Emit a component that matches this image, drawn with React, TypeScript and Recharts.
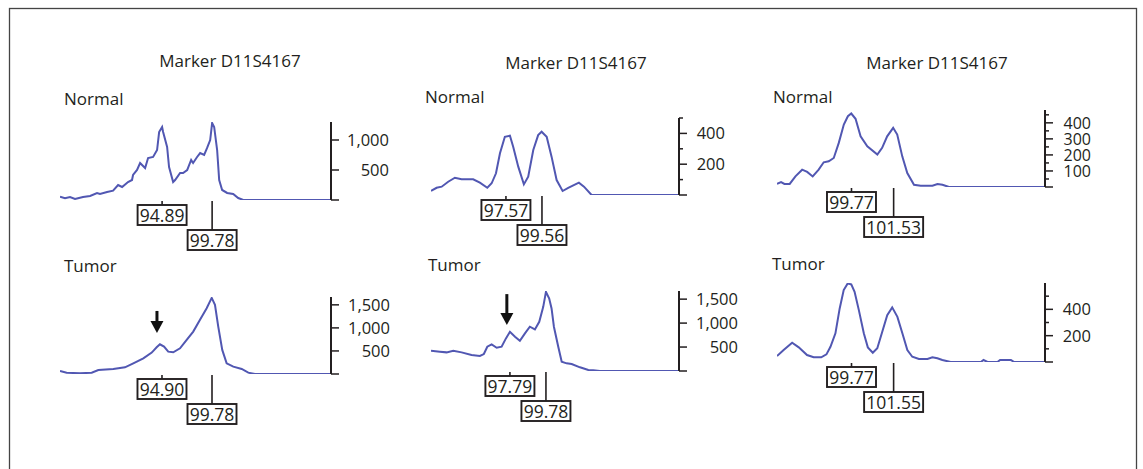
import { LineChart, Line, XAxis, YAxis, ReferenceDot } from 'recharts';

// fragment size (bp) and signal
const normal1Bp = [84.91, 85.4, 85.89, 86.38, 87.16, 87.85, 88.53, 88.82, 89.51, 90.1, 90.59, 90.98, 91.56, 91.95, 92.05, 92.44, 92.74, 93.23, 93.52, 94.01, 94.4, 94.6, 94.89, 94.99, 95.38, 95.57, 95.97, 96.16, 96.65, 96.94, 97.34, 97.73, 97.92, 98.31, 98.61, 99.0, 99.29, 99.59, 99.78, 99.98, 100.27, 100.47, 100.76, 101.25, 101.84, 102.33, 102.82, 111.4];
const normal1Rfu = [55, 28, 50, 17, 50, 67, 117, 100, 133, 155, 250, 217, 300, 333, 417, 500, 617, 533, 700, 717, 833, 1133, 1217, 1133, 883, 550, 300, 333, 450, 450, 500, 667, 617, 717, 783, 750, 867, 1000, 1283, 1217, 833, 333, 167, 117, 100, 33, 0, 0];

const normal2Bp = [93.43, 93.74, 94.02, 94.38, 94.75, 95.12, 95.76, 96.13, 96.54, 96.78, 97.02, 97.24, 97.51, 97.79, 97.97, 98.25, 98.56, 98.8, 99.08, 99.35, 99.54, 99.82, 100.09, 100.37, 100.7, 101.01, 101.6, 101.88, 102.3, 107.13];
const normal2Rfu = [26, 47, 54, 86, 112, 102, 102, 80, 47, 76, 141, 271, 378, 385, 313, 184, 69, 119, 292, 389, 411, 378, 249, 97, 26, 47, 80, 54, 0, 0];

const normal3Bp = [96.66, 96.83, 96.97, 97.19, 97.43, 97.71, 97.92, 98.15, 98.4, 98.61, 98.82, 99.03, 99.24, 99.45, 99.62, 99.76, 99.94, 100.15, 100.43, 100.85, 101.05, 101.26, 101.51, 101.68, 101.89, 102.1, 102.38, 102.66, 103.15, 103.36, 103.57, 103.84, 107.85];
const normal3Rfu = [19, 31, 19, 19, 66, 108, 94, 66, 108, 154, 160, 181, 275, 389, 441, 458, 425, 316, 254, 202, 244, 316, 369, 327, 191, 87, 14, 8, 8, 19, 14, 0, 0];

const tumor1Bp = [84.95, 85.6, 86.9, 88.04, 88.69, 90.15, 91.29, 92.1, 93.08, 93.9, 94.38, 94.7, 95.1, 95.51, 96.0, 96.66, 97.31, 97.95, 98.61, 99.26, 99.75, 100.07, 100.39, 100.78, 101.21, 101.86, 102.68, 103.32, 103.97, 111.39];
const tumor1Rfu = [65, 29, 14, 29, 87, 109, 145, 232, 341, 464, 580, 645, 594, 485, 471, 558, 739, 920, 1174, 1428, 1650, 1500, 1029, 522, 232, 159, 109, 29, 0, 0];

const tumor2Bp = [93.43, 93.92, 94.29, 94.66, 95.12, 95.67, 96.13, 96.35, 96.54, 96.78, 97.06, 97.33, 97.57, 97.79, 98.07, 98.34, 98.62, 98.89, 99.17, 99.41, 99.63, 99.78, 99.96, 100.09, 100.22, 100.46, 100.65, 100.92, 101.2, 101.66, 102.12, 102.39, 102.76, 107.13];
const tumor2Rfu = [423, 403, 389, 423, 389, 333, 313, 354, 507, 556, 486, 507, 681, 819, 715, 632, 785, 924, 868, 1028, 1340, 1652, 1514, 1306, 924, 507, 194, 160, 146, 77, 21, 14, 0, 0];

const tumor3Bp = [96.62, 96.9, 97.26, 97.54, 97.89, 98.17, 98.49, 98.71, 98.88, 99.09, 99.27, 99.44, 99.61, 99.76, 99.9, 100.08, 100.29, 100.46, 100.67, 100.86, 101.07, 101.28, 101.49, 101.71, 101.92, 102.13, 102.34, 102.62, 102.98, 103.19, 103.4, 103.61, 103.96, 105.24, 105.35, 105.52, 105.94, 106.05, 106.51, 106.65, 107.95];
const tumor3Rfu = [45, 91, 146, 111, 53, 36, 36, 58, 116, 218, 407, 546, 597, 589, 533, 394, 218, 111, 70, 104, 230, 356, 415, 343, 218, 91, 40, 23, 23, 36, 28, 15, 0, 0, 15, 0, 0, 15, 15, 0, 0];

// called allele sizes under each trace
const normalPeaks = [[94.89, 99.78], [97.57, 99.56], [99.77, 101.53]];
const tumorPeaks = [[94.9, 99.78], [97.79, 99.78], [99.77, 101.55]];

// arrows over the reduced allele (bp, signal at arrow tip)
const tumorArrows: ([number, number] | null)[] = [[94.41, 890], [97.62, 958], null];

// y axis: top of scale, labelled ticks, unlabelled minor ticks
const yTops = [1300, 500, 480, 1670, 1670, 600];
const yMajor = [[0, 500, 1000], [0, 200, 400], [0, 100, 200, 300, 400], [0, 500, 1000, 1500], [0, 500, 1000, 1500], [0, 200, 400]];
const yMinor = [[], [100, 300, 500], [50, 150, 250, 350, 450], [], [], [100, 300, 500]];

const markerTitle = 'Marker D11S4167';

const INK = '#231f20';
const TRACE = '#5157b2';
const FONT = "'Open Sans', sans-serif";
const MT = 4;
const MB = 60;
const AXIS_W = 72;

// pixel placement of each plot area
const boxes = [
  { left: 60, axisX: 331, top: 122, bottom: 200, labelEnd: 58, arrowLen: 0, tickFont: 16.5 },
  { left: 431, axisX: 679, top: 118, bottom: 195, labelEnd: 46, arrowLen: 0, tickFont: 16.5 },
  { left: 777, axisX: 1045, top: 110, bottom: 187, labelEnd: 46, arrowLen: 0, tickFont: 16 },
  { left: 60, axisX: 331, top: 297, bottom: 374, labelEnd: 59, arrowLen: 22, tickFont: 16.5 },
  { left: 431, axisX: 679, top: 291, bottom: 371, labelEnd: 59, arrowLen: 31, tickFont: 16.5 },
  { left: 777, axisX: 1045, top: 283, bottom: 362, labelEnd: 46, arrowLen: 0, tickFont: 16.5 },
];

function AxisTick(props: any) {
  const { x, y, payload, major, labelEnd, fontPx } = props;
  const isMajor = major.includes(payload.value);
  return (
    <g>
      <line x1={x} x2={x + (isMajor ? 8 : 4)} y1={y} y2={y} stroke={INK} strokeWidth={1.5} />
      {isMajor && payload.value > 0 && (
        <text x={x + labelEnd} y={y} dy="0.36em" textAnchor="end" fontSize={fontPx} fontFamily={FONT} fill={INK}>
          {payload.value.toLocaleString('en-US')}
        </text>
      )}
    </g>
  );
}

function PeakTag({ cx, cy, text, drop }: { cx: number; cy: number; text: string; drop: number }) {
  const w = text.length * 10 - 1;
  return (
    <g>
      <line x1={cx} x2={cx} y1={cy + 1} y2={cy + drop} stroke={INK} strokeWidth={1.6} />
      <rect x={cx - w / 2} y={cy + drop} width={w} height={20} fill="#fff" stroke={INK} strokeWidth={1.9} />
      <text x={cx} y={cy + drop + 10.5} dy="0.36em" textAnchor="middle" fontSize={17.5} fontFamily={FONT} fill={INK}>
        {text}
      </text>
    </g>
  );
}

function Arrow({ cx, cy, len }: { cx: number; cy: number; len: number }) {
  const head = 12;
  return (
    <g>
      <line x1={cx} x2={cx} y1={cy - len} y2={cy - head + 1} stroke="#111" strokeWidth={3} />
      <polygon points={`${cx - 6.5},${cy - head} ${cx + 6.5},${cy - head} ${cx},${cy}`} fill="#111" />
    </g>
  );
}

function Trace({ idx, bp, rfu, peaks, arrow }: { idx: number; bp: number[]; rfu: number[]; peaks: number[]; arrow: [number, number] | null }) {
  const box = boxes[idx];
  const data = bp.map((b, i) => ({ bp: b, rfu: rfu[i] }));
  const ticks = [...yMajor[idx], ...yMinor[idx]].sort((a, b) => a - b);
  const w = box.axisX - box.left + AXIS_W;
  const h = box.bottom - box.top + MT + MB;
  return (
    <div style={{ position: 'absolute', left: box.left, top: box.top - MT }}>
      <LineChart width={w} height={h} data={data} margin={{ top: MT, right: 0, bottom: MB, left: 0 }}>
        <XAxis type="number" dataKey="bp" domain={['dataMin', 'dataMax']} allowDataOverflow hide />
        <YAxis
          orientation="right"
          width={AXIS_W}
          type="number"
          domain={[0, yTops[idx]]}
          allowDataOverflow
          ticks={ticks}
          interval={0}
          tickSize={0}
          tickMargin={0}
          tickLine={false}
          axisLine={{ stroke: INK, strokeWidth: 2 }}
          tick={<AxisTick major={yMajor[idx]} labelEnd={box.labelEnd} fontPx={box.tickFont} />}
        />
        <Line type="linear" dataKey="rfu" stroke={TRACE} strokeWidth={2} dot={false} isAnimationActive={false} />
        {peaks.map((p, i) => (
          <ReferenceDot
            key={i}
            x={p}
            y={0}
            r={0}
            ifOverflow="visible"
            shape={(s: any) => <PeakTag cx={s.cx} cy={s.cy} text={p.toFixed(2)} drop={i === 0 ? 5 : 30} />}
          />
        ))}
        {arrow && (
          <ReferenceDot
            x={arrow[0]}
            y={arrow[1]}
            r={0}
            ifOverflow="visible"
            shape={(s: any) => <Arrow cx={s.cx} cy={s.cy} len={box.arrowLen} />}
          />
        )}
      </LineChart>
    </div>
  );
}

export default function App() {
  const normals = [[normal1Bp, normal1Rfu], [normal2Bp, normal2Rfu], [normal3Bp, normal3Rfu]];
  const tumors = [[tumor1Bp, tumor1Rfu], [tumor2Bp, tumor2Rfu], [tumor3Bp, tumor3Rfu]];
  const titleX = [230, 576, 937];
  const titleY = [67, 69, 69];
  const normalPos = [[64, 105], [425, 103], [773, 103]];
  const tumorPos = [[64, 272], [428, 271], [772, 270]];

  return (
    <div style={{ position: 'absolute', left: 0, top: 0, width: 1143, height: 469, background: '#fff', overflow: 'hidden' }}>
      <svg width={1143} height={469} style={{ position: 'absolute', left: 0, top: 0 }}>
        <rect x={9.5} y={8.5} width={1127} height={480} fill="none" stroke="#444" strokeWidth={1.3} />
        {titleX.map((x, i) => (
          <text key={'t' + i} x={x} y={titleY[i]} textAnchor="middle" fontSize={17} fontFamily={FONT} fill={INK}>
            {markerTitle}
          </text>
        ))}
        {normalPos.map(([x, y], i) => (
          <text key={'n' + i} x={x} y={y} fontSize={17} fontFamily={FONT} fill={INK}>Normal</text>
        ))}
        {tumorPos.map(([x, y], i) => (
          <text key={'u' + i} x={x} y={y} fontSize={17} fontFamily={FONT} fill={INK}>Tumor</text>
        ))}
      </svg>
      {normals.map(([bp, rfu], i) => (
        <Trace key={'N' + i} idx={i} bp={bp} rfu={rfu} peaks={normalPeaks[i]} arrow={null} />
      ))}
      {tumors.map(([bp, rfu], i) => (
        <Trace key={'T' + i} idx={i + 3} bp={bp} rfu={rfu} peaks={tumorPeaks[i]} arrow={tumorArrows[i]} />
      ))}
    </div>
  );
}
